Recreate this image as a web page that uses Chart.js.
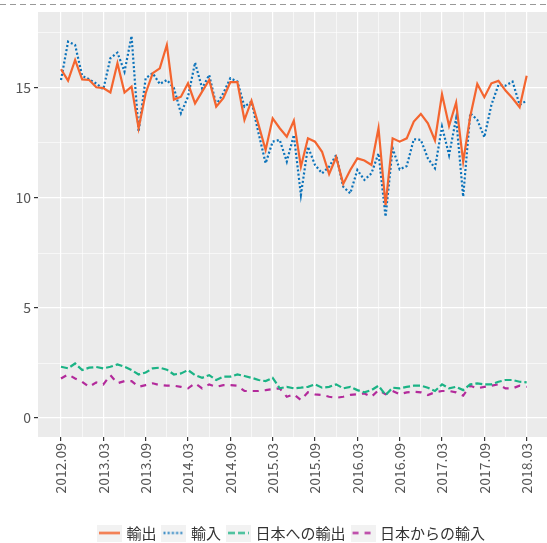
<!DOCTYPE html>
<html>
<head>
<meta charset="utf-8">
<script src="https://cdn.jsdelivr.net/npm/chart.js@4"></script>
<style>
  html, body { margin: 0; padding: 0; background: #fff; }
  #wrap { width: 547px; height: 543px; position: relative; }
</style>
</head>
<body>
<div id="wrap"><canvas id="tradeChart"></canvas></div>
<script>
// months 2012.09 - 2018.03
const months = [
  '2012.09','2012.10','2012.11','2012.12','2013.01','2013.02','2013.03','2013.04','2013.05','2013.06','2013.07','2013.08',
  '2013.09','2013.10','2013.11','2013.12','2014.01','2014.02','2014.03','2014.04','2014.05','2014.06','2014.07','2014.08',
  '2014.09','2014.10','2014.11','2014.12','2015.01','2015.02','2015.03','2015.04','2015.05','2015.06','2015.07','2015.08',
  '2015.09','2015.10','2015.11','2015.12','2016.01','2016.02','2016.03','2016.04','2016.05','2016.06','2016.07','2016.08',
  '2016.09','2016.10','2016.11','2016.12','2017.01','2017.02','2017.03','2017.04','2017.05','2017.06','2017.07','2017.08',
  '2017.09','2017.10','2017.11','2017.12','2018.01','2018.02','2018.03'
];
const xTickLabels = ['2012.09','2013.03','2013.09','2014.03','2014.09','2015.03','2015.09','2016.03','2016.09','2017.03','2017.09','2018.03'];
const yTickLabels = [0, 5, 10, 15];

const exports = [
  15.85, 15.33, 16.27, 15.39, 15.36, 15.03, 14.99, 14.79, 16.12, 14.79, 15.06, 13.17,
  14.76, 15.67, 15.89, 16.95, 14.47, 14.60, 15.21, 14.30, 14.83, 15.36, 14.15, 14.53,
  15.26, 15.26, 13.55, 14.42, 13.32, 12.18, 13.62, 13.17, 12.78, 13.51, 11.42, 12.71,
  12.56, 12.10, 11.09, 11.85, 10.64, 11.27, 11.80, 11.70, 11.50, 13.17, 9.68, 12.71,
  12.56, 12.71, 13.47, 13.82, 13.39, 12.61, 14.71, 13.27, 14.33, 11.65, 13.70, 15.18,
  14.58, 15.21, 15.32, 14.88, 14.53, 14.12, 15.55
];
const imports = [
  15.36, 17.10, 16.95, 15.55, 15.39, 15.20, 14.94, 16.35, 16.60, 15.74, 17.36, 13.01,
  15.44, 15.67, 15.18, 15.36, 15.00, 13.85, 14.60, 16.15, 14.98, 15.59, 14.23, 14.76,
  15.44, 15.29, 14.15, 14.38, 12.94, 11.58, 12.56, 12.64, 11.65, 12.86, 10.14, 12.33,
  11.50, 11.12, 11.42, 11.95, 10.51, 10.21, 11.27, 10.82, 11.12, 12.03, 9.15, 12.26,
  11.30, 11.45, 12.67, 12.64, 11.80, 11.35, 13.24, 11.95, 13.62, 10.06, 13.85, 13.55,
  12.76, 14.23, 15.14, 15.10, 15.29, 14.23, 14.42
];
const exportsToJapan = [
  2.33, 2.26, 2.48, 2.18, 2.29, 2.32, 2.26, 2.33, 2.44, 2.33, 2.18, 1.98,
  2.07, 2.26, 2.29, 2.20, 1.98, 2.03, 2.18, 1.95, 1.83, 1.95, 1.73, 1.88,
  1.88, 1.98, 1.91, 1.83, 1.73, 1.68, 1.83, 1.35, 1.42, 1.35, 1.38, 1.42,
  1.53, 1.38, 1.42, 1.53, 1.35, 1.42, 1.27, 1.17, 1.27, 1.47, 1.05, 1.38,
  1.35, 1.42, 1.47, 1.47, 1.38, 1.23, 1.53, 1.35, 1.42, 1.27, 1.53, 1.58,
  1.53, 1.53, 1.65, 1.73, 1.73, 1.65, 1.62
];
const importsFromJapan = [
  1.80, 1.98, 1.80, 1.65, 1.42, 1.62, 1.53, 1.95, 1.58, 1.68, 1.68, 1.42,
  1.50, 1.58, 1.50, 1.47, 1.47, 1.42, 1.35, 1.58, 1.35, 1.53, 1.42, 1.50,
  1.50, 1.47, 1.23, 1.23, 1.23, 1.27, 1.32, 1.35, 0.97, 1.08, 0.82, 1.17,
  1.08, 1.05, 0.97, 0.92, 0.97, 1.05, 1.08, 1.12, 0.97, 1.27, 1.08, 1.23,
  1.08, 1.17, 1.20, 1.17, 1.05, 1.17, 1.23, 1.23, 1.17, 1.02, 1.47, 1.35,
  1.42, 1.47, 1.53, 1.35, 1.35, 1.47, 1.42
];

const seriesNames = ['輸出', '輸入', '日本への輸出', '日本からの輸入'];
const seriesColors = ['#F4652F', '#0A72BA', '#1BB385', '#B32A9B'];
const seriesDash = [[], [2, 2.2], [7, 3], [6, 6]];
const seriesData = [exports, imports, exportsToJapan, importsFromJapan];

Chart.defaults.font.family = "'Noto Sans CJK JP', 'Noto Sans', sans-serif";

// legend key: grey box with line sample
function keyIcon(color, dash) {
  const c = document.createElement('canvas');
  c.width = 25; c.height = 17;
  const g = c.getContext('2d');
  g.fillStyle = '#F2F2F2';
  g.fillRect(0, 0, 25, 17);
  g.strokeStyle = color;
  g.lineWidth = 2.2;
  g.setLineDash(dash);
  g.beginPath();
  g.moveTo(2, 8.5);
  g.lineTo(23, 8.5);
  g.stroke();
  return c;
}

const panelBg = {
  id: 'panelBg',
  beforeDraw(chart) {
    const { ctx, chartArea: a } = chart;
    ctx.save();
    ctx.fillStyle = '#EBEBEB';
    ctx.fillRect(a.left, a.top, a.right - a.left, a.bottom - a.top);
    ctx.restore();
  },
  afterDraw(chart) {
    const ctx = chart.ctx;
    ctx.save();
    ctx.strokeStyle = '#999';
    ctx.lineWidth = 1;
    ctx.setLineDash([6, 4]);
    ctx.beginPath();
    ctx.moveTo(0, 4.5);
    ctx.lineTo(chart.width, 4.5);
    ctx.stroke();
    ctx.restore();
  }
};

const ctx = document.getElementById('tradeChart').getContext('2d');
new Chart(ctx, {
  type: 'line',
  data: {
    datasets: seriesData.map((vals, k) => ({
      label: seriesNames[k],
      data: vals.map((v, i) => ({ x: i, y: v })),
      borderColor: seriesColors[k],
      borderDash: seriesDash[k],
      borderWidth: 2.2,
      pointRadius: 0,
      tension: 0,
      fill: false
    }))
  },
  options: {
    responsive: true,
    maintainAspectRatio: false,
    animation: false,
    layout: { padding: { top: 12, left: 0, right: 0, bottom: -7.5 } },
    scales: {
      x: {
        type: 'linear',
        min: -3.26,
        max: 68.88,
        afterBuildTicks: s => {
          s.ticks = months.map((m, i) => i).filter(i => i % 3 === 0).map(i => ({ value: i }));
        },
        afterFit: s => { s.height = 80.5; },
        ticks: {
          autoSkip: false,
          maxRotation: 90,
          minRotation: 90,
          padding: 2,
          color: '#555',
          font: { size: 14 },
          callback: v => xTickLabels.includes(months[v]) ? months[v] : ''
        },
        grid: {
          color: '#fff',
          lineWidth: c => (c.tick && c.tick.value % 6 === 0) ? 1.2 : 0.6,
          tickColor: c => (c.tick && c.tick.value % 6 === 0) ? '#333' : 'rgba(0,0,0,0)',
          tickLength: 4
        },
        border: { display: false }
      },
      y: {
        min: -0.86,
        max: 18.45,
        afterBuildTicks: s => {
          s.ticks = [0, 2.5, 5, 7.5, 10, 12.5, 15, 17.5].map(v => ({ value: v }));
        },
        afterFit: s => { s.width = 38; },
        ticks: {
          padding: 3,
          color: '#555',
          font: { size: 14 },
          callback: v => yTickLabels.includes(v) ? String(v) : ''
        },
        grid: {
          color: '#fff',
          lineWidth: c => (c.tick && c.tick.value % 5 === 0) ? 1.2 : 0.6,
          tickColor: c => (c.tick && c.tick.value % 5 === 0) ? '#333' : 'rgba(0,0,0,0)',
          tickLength: 4
        },
        border: { display: false }
      }
    },
    plugins: {
      legend: {
        position: 'bottom',
        fullSize: false,
        labels: {
          usePointStyle: true,
          pointStyleWidth: 19,
          padding: 8,
          color: '#333',
          font: { size: 15 },
          generateLabels: chart => chart.data.datasets.map((d, k) => ({
            text: d.label,
            pointStyle: keyIcon(seriesColors[k], seriesDash[k]),
            fillStyle: 'rgba(0,0,0,0)',
            strokeStyle: 'rgba(0,0,0,0)',
            lineWidth: 0,
            fontColor: '#333',
            datasetIndex: k
          }))
        }
      },
      tooltip: { enabled: false }
    }
  },
  plugins: [panelBg]
});
</script>
</body>
</html>
